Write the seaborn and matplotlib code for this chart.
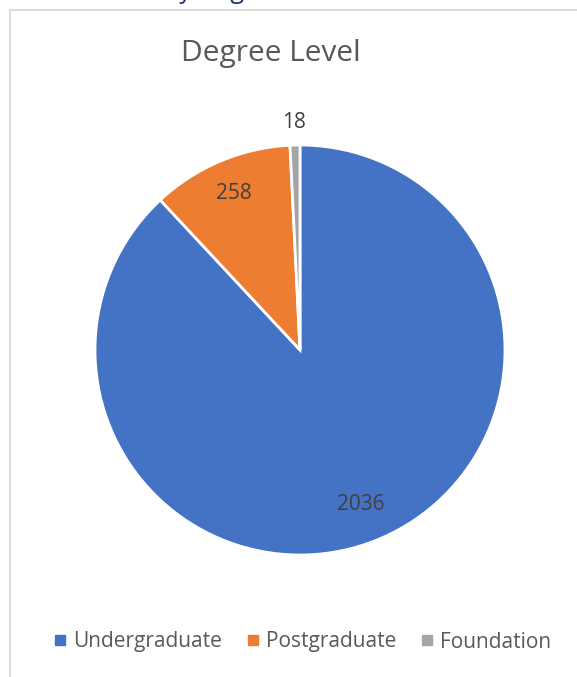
import matplotlib
matplotlib.use("Agg")
import matplotlib.pyplot as plt
import seaborn as sns
import numpy as np
from matplotlib.patches import Rectangle

categories = ["Undergraduate", "Postgraduate", "Foundation"]
values = [2036, 258, 18]
colors = ["#4472C4", "#ED7D31", "#A5A5A5"]
title = "Degree Level"
label_dist = [0.81, 0.83, 1.11]

sns.set_theme(style="white")
plt.rcParams['font.family'] = ['Open Sans', 'DejaVu Sans']

W, H = 577, 677
fig = plt.figure(figsize=(W / 100, H / 100), dpi=100)
fig.patch.set_facecolor("white")

# chart border (partially outside the crop)
fig.patches.append(Rectangle((10 / W, -0.1), 1.2, 1 - 9.5 / H + 0.1, transform=fig.transFigure,
                             fill=False, edgecolor="#D9D9D9", linewidth=1.3))

# cropped heading text at the very top (only descenders visible)
fig.text(164 / W, 1 + 2 / H, "by Degree Level", ha="left", va="baseline",
         fontsize=18, color="#1F3864")

cx, cy, r = 300, 350, 205
ax = fig.add_axes([(cx - r) / W, 1 - (cy + r) / H, 2 * r / W, 2 * r / H])
wedges, _ = ax.pie(values, colors=colors, startangle=90, counterclock=False,
                   wedgeprops=dict(edgecolor="white", linewidth=2))
ax.set_xlim(-1, 1)
ax.set_ylim(-1, 1)
ax.set_aspect("equal")
ax.axis("off")

for w, v, d in zip(wedges, values, label_dist):
    ang = np.deg2rad((w.theta1 + w.theta2) / 2)
    ax.text(d * np.cos(ang), d * np.sin(ang), f"{v}", ha="center", va="center",
            fontsize=15, color="#404040", clip_on=False)

fig.text(271 / W, 1 - 54 / H, title, ha="center", va="center", fontsize=21.5, color="#595959")

handles = [plt.Line2D([], [], marker="s", linestyle="", markersize=6.5,
                      markerfacecolor=c, markeredgecolor=c) for c in colors]
fig.legend(handles, categories, loc="center", bbox_to_anchor=(302 / W, 1 - 642 / H),
           ncol=3, frameon=False, fontsize=15, labelcolor="#595959",
           handletextpad=0.3, columnspacing=1.1, handlelength=0.7)

fig.savefig("out.png", dpi=100, facecolor="white")
